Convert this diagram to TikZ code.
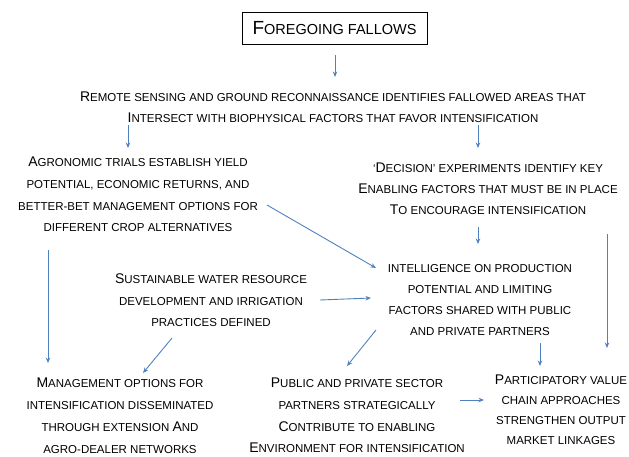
\documentclass[tikz,border=0pt]{standalone}
\usepackage{fontspec}
\setmainfont{Liberation Sans}
\usetikzlibrary{arrows.meta}
\definecolor{arrowblue}{HTML}{4F81BD}
\newcommand\Bc[1]{{\fontsize{14}{14}\selectfont #1}}
\newcommand\Tc[1]{{\fontsize{19}{19}\selectfont #1}}
\tikzset{
  txt/.style={align=center, inner sep=0pt},
  arr/.style={draw=arrowblue, line width=0.9pt, -{Stealth[length=5.5pt,width=4.5pt]}},
}
\begin{document}
\begin{tikzpicture}[x=1pt,y=-1pt]
\useasboundingbox (0,0) rectangle (629,456);
\node[draw, line width=0.8pt, minimum width=185pt, minimum height=32pt, inner sep=0pt, font=\fontsize{14.5}{16}\selectfont] (title) at (334.5,28) {\Tc{F}OREGOING FALLOWS};
\node[txt, font=\fontsize{11.5}{20.5}\selectfont] (remote) at (333,107) {\Bc{R}EMOTE SENSING AND GROUND RECONNAISSANCE IDENTIFIES FALLOWED AREAS THAT\\\Bc{I}NTERSECT WITH BIOPHYSICAL FACTORS THAT FAVOR INTENSIFICATION};
\node[txt, font=\fontsize{11.5}{21.7}\selectfont] (agro) at (138,194.5) {\Bc{A}GRONOMIC TRIALS ESTABLISH YIELD\\POTENTIAL, ECONOMIC RETURNS, AND\\BETTER-BET MANAGEMENT OPTIONS FOR\\DIFFERENT CROP ALTERNATIVES};
\node[txt, font=\fontsize{11.5}{21}\selectfont] (decision) at (488,189) {`\Bc{D}ECISION' EXPERIMENTS IDENTIFY KEY\\\Bc{E}NABLING FACTORS THAT MUST BE IN PLACE\\\Bc{T}O ENCOURAGE INTENSIFICATION};
\node[txt, font=\fontsize{11.5}{21.3}\selectfont] (intel) at (480,300) {INTELLIGENCE ON PRODUCTION\\POTENTIAL AND LIMITING\\FACTORS SHARED WITH PUBLIC\\AND PRIVATE PARTNERS};
\node[txt, font=\fontsize{11.5}{21.5}\selectfont] (sust) at (211,300.5) {\Bc{S}USTAINABLE WATER RESOURCE\\DEVELOPMENT AND IRRIGATION\\PRACTICES DEFINED};
\node[txt, font=\fontsize{11.5}{22}\selectfont] (mgmt) at (120,416) {\Bc{M}ANAGEMENT OPTIONS FOR\\INTENSIFICATION DISSEMINATED\\THROUGH EXTENSION \Bc{A}ND\\AGRO-DEALER NETWORKS};
\node[txt, font=\fontsize{11.5}{21.7}\selectfont] (public) at (357,415.5) {\Bc{P}UBLIC AND PRIVATE SECTOR\\PARTNERS STRATEGICALLY\\\Bc{C}ONTRIBUTE TO ENABLING\\\Bc{E}NVIRONMENT FOR INTENSIFICATION};
\node[txt, font=\fontsize{11.5}{20}\selectfont] (partic) at (561,410) {\Bc{P}ARTICIPATORY VALUE\\CHAIN APPROACHES\\STRENGTHEN OUTPUT\\MARKET LINKAGES};
% connector end points
\coordinate (t1) at (335,55); \coordinate (t2) at (335,77);
\coordinate (r1) at (128,125); \coordinate (r2) at (128,148);
\coordinate (r3) at (478,125); \coordinate (r4) at (478,148);
\coordinate (d1) at (478,227); \coordinate (d2) at (478,244);
\coordinate (d3) at (607,234); \coordinate (d4) at (607,348);
\coordinate (a1) at (267,205); \coordinate (a2) at (376,268);
\coordinate (a3) at (48,250); \coordinate (a4) at (48,363);
\coordinate (s1) at (320,300); \coordinate (s2) at (371,298);
\coordinate (s3) at (172,338); \coordinate (s4) at (143,373);
\coordinate (i1) at (376,330); \coordinate (i2) at (347,366);
\coordinate (i3) at (540,343); \coordinate (i4) at (540,366);
\coordinate (p1) at (460,400); \coordinate (p2) at (484,400);
\draw[arr] (t1) -- (t2);
\draw[arr] (r1) -- (r2);
\draw[arr] (r3) -- (r4);
\draw[arr] (d1) -- (d2);
\draw[arr] (d3) -- (d4);
\draw[arr] (a1) -- (a2);
\draw[arr] (a3) -- (a4);
\draw[arr] (s1) -- (s2);
\draw[arr] (s3) -- (s4);
\draw[arr] (i1) -- (i2);
\draw[arr] (i3) -- (i4);
\draw[arr] (p1) -- (p2);
\end{tikzpicture}
\end{document}
